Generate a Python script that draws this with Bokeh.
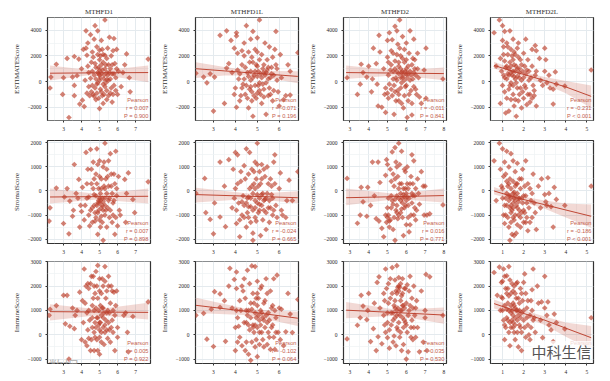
from math import pi
from bokeh.plotting import figure
from bokeh.layouts import column, row
from bokeh.models import Label, Range1d, FixedTicker
from bokeh.embed import file_html
from bokeh.resources import INLINE

genes = ["MTHFD1", "MTHFD1L", "MTHFD2", "MTHFD2L"]
scores = ["ESTIMATEScore", "StromalScore", "ImmuneScore"]
x_ranges = [(2.11, 7.83), (2.18, 6.88), (2.66, 8.14), (0.43, 5.31)]
y_ranges = [(-3030, 4985), (-2180, 2095), (-1180, 3010)]
x_ticks = [[3, 4, 5, 6, 7], [3, 4, 5, 6], [3, 4, 5, 6, 7, 8], [1, 2, 3, 4, 5]]
y_ticks = [[-2000, 0, 2000, 4000], [-2000, -1000, 0, 1000, 2000], [-1000, 0, 1000, 2000, 3000]]

stats = [
    [("r = 0.007", "P = 0.900"), ("r = -0.071", "P = 0.196"), ("r = -0.011", "P = 0.841"), ("r = -0.231", "P < 0.001")],
    [("r = 0.007", "P = 0.898"), ("r = -0.024", "P = 0.665"), ("r = 0.016", "P = 0.771"), ("r = -0.186", "P < 0.001")],
    [("r = 0.005", "P = 0.922"), ("r = -0.102", "P = 0.064"), ("r = -0.035", "P = 0.530"), None],
]

pts_11 = [(2.25,-500),(2.3,350),(2.6,1350),(2.95,-1000),(3.0,300),(3.2,1800),(3.3,-2800),(3.5,350),(3.6,-1100),(3.6,-300),(3.6,1950),(3.75,450),(3.85,1750),(3.9,-1750),(4.0,1000),(4.05,-1450),(4.1,2500),(4.15,-1950),(4.2,100),(4.25,3950),(4.3,-900),(4.3,2050),(4.35,3000),(4.4,700),(4.45,-1100),(4.5,3650),(4.55,1500),(4.6,-300),(4.6,2300),(4.65,-1000),(4.7,500),(4.7,3300),(4.75,4350),(4.8,-1400),(4.8,1100),(4.85,2700),(4.9,3950),(4.9,-100),(4.95,600),(5.0,-2100),(5.0,1700),(5.0,2450),(5.05,300),(5.1,-800),(5.1,3200),(5.15,900),(5.2,2100),(5.2,-1700),(5.25,500),(5.3,4800),(5.3,-400),(5.35,1300),(5.4,-1400),(5.4,700),(5.45,2600),(5.5,100),(5.55,3450),(5.6,-900),(5.6,1000),(5.65,2000),(5.7,600),(5.7,-1600),(5.8,3350),(5.8,-300),(5.85,1400),(5.9,300),(5.95,2500),(6.0,-1000),(6.05,800),(6.2,-400),(6.3,700),(6.4,1300),(6.5,2150),(6.65,300),(6.7,-800),(7.7,1750),(4.9,700),(5.0,500),(5.1,1300),(4.75,-500),(5.2,-200),(4.6,800),(5.4,150),(4.85,-900),
(4.25,2600),(4.35,1200),(4.4,-400),(4.5,250),(4.55,-800),(4.65,1900),(4.7,-1150),(4.75,1400),(4.8,200),(4.85,-200),(4.9,2100),(4.95,1100),(4.95,-1300),(5.0,100),(5.0,900),(5.05,-600),(5.05,2000),(5.1,650),(5.15,-1100),(5.15,2500),(5.2,1500),(5.25,-1000),(5.25,200),(5.3,1000),(5.3,2050),(5.35,-100),(5.4,-700),(5.4,1800),(5.45,500),(5.5,-1100),(5.5,1300),(5.55,700),(5.6,200),(5.65,-500),(5.7,1300),(5.75,2400),(5.75,-1000),(5.8,600),(5.9,-700),(5.95,1000)]
pts_12 = [(2.2,650),(2.55,350),(2.7,-100),(2.85,600),(3.0,-2300),(3.05,350),(3.3,3600),(3.5,-1700),(3.6,1050),(3.6,3950),(3.7,1400),(3.8,3200),(3.85,700),(3.95,-1000),(3.95,2600),(4.05,3550),(4.05,3800),(4.05,-2000),(4.1,2200),(4.15,200),(4.2,-1500),(4.3,-500),(4.3,1300),(4.4,2000),(4.4,3000),(4.45,-1000),(4.5,4350),(4.55,700),(4.6,-2050),(4.65,1500),(4.7,100),(4.7,3300),(4.75,-800),(4.8,3900),(4.8,-2700),(4.85,500),(4.9,2500),(4.95,-1300),(5.0,1200),(5.0,3400),(5.05,-300),(5.1,4800),(5.15,600),(5.2,2100),(5.2,-1700),(5.25,1000),(5.3,-600),(5.35,3000),(5.4,-2550),(5.4,700),(5.45,1700),(5.5,-1100),(5.55,2700),(5.6,300),(5.65,1100),(5.7,-1500),(5.75,500),(5.8,2500),(5.85,3900),(5.9,1000),(5.95,-800),(6.0,-1900),(6.05,2100),(6.1,300),(6.2,-1400),(6.3,-1100),(6.4,1300),(6.5,800),(6.5,-1050),(6.85,2250),(4.6,400),(4.9,800),(5.1,-100),(4.8,1500),(5.3,700),(4.4,200),(5.0,-900),(4.7,-400),
(4.0,-500),(4.1,900),(4.2,600),(4.25,-1100),(4.3,2400),(4.35,-200),(4.45,1100),(4.5,-300),(4.55,-1300),(4.6,2300),(4.65,-600),(4.7,800),(4.75,1900),(4.75,-1500),(4.8,300),(4.85,-1100),(4.9,-300),(4.95,1300),(5.0,400),(5.0,2300),(5.05,800),(5.1,-700),(5.1,1700),(5.15,-1000),(5.2,300),(5.25,-200),(5.3,1300),(5.3,-1200),(5.35,500),(5.4,-100),(5.45,900),(5.5,200),(5.5,1100),(5.55,-500),(5.6,-1000),(5.65,600),(5.7,1900),(5.75,-700),(5.85,1300),(5.9,100)]
pts_13 = [(2.85,300),(3.4,-1000),(3.55,-200),(3.6,1350),(3.7,700),(3.9,350),(4.0,1200),(4.15,-800),(4.2,200),(4.25,2600),(4.4,1400),(4.45,-200),(4.5,-1900),(4.55,3600),(4.6,2300),(4.7,-2000),(4.8,1000),(4.85,-1000),(4.9,-2400),(5.0,1900),(5.0,3200),(5.05,500),(5.05,-1300),(5.1,3800),(5.2,2400),(5.2,-600),(5.25,3250),(5.3,800),(5.35,-2550),(5.4,1600),(5.4,4300),(5.45,-1500),(5.5,3950),(5.5,100),(5.55,2900),(5.6,-1000),(5.6,1200),(5.65,4800),(5.7,2000),(5.7,300),(5.75,-1700),(5.8,3500),(5.8,800),(5.85,-2050),(5.9,1500),(5.9,2500),(5.95,-400),(6.0,3000),(6.0,600),(6.05,-2800),(6.1,1200),(6.15,-1000),(6.2,3950),(6.25,500),(6.3,-1700),(6.3,-2600),(6.35,1800),(6.4,3300),(6.45,1000),(6.5,-600),(6.6,2200),(6.65,300),(6.7,-1200),(6.8,-1700),(6.95,900),(7.05,2600),(7.05,-1300),(7.95,200),(5.6,600),(5.8,300),(5.5,800),(6.0,1000),(5.3,200),(5.7,-500),(6.2,100),(5.2,1300),
(4.9,-500),(5.0,-900),(5.05,1500),(5.1,-200),(5.15,900),(5.25,-1100),(5.3,2200),(5.35,-300),(5.4,1000),(5.45,300),(5.5,2100),(5.55,-700),(5.6,-1500),(5.65,2600),(5.7,1000),(5.75,-100),(5.8,1800),(5.85,500),(5.9,-1100),(5.95,800),(6.0,1700),(6.0,-300),(6.05,300),(6.1,-1500),(6.15,2200),(6.2,800),(6.25,-700),(6.3,1300),(6.35,200),(6.4,-400),(6.45,1700),(6.5,500),(6.55,-1000),(6.6,1000),(5.4,-800),(5.6,1500),(5.75,700),(5.9,100),(6.1,600),(6.4,700)]
pts_14 = [(0.6,3800),(0.7,1200),(0.85,4800),(0.9,-1700),(1.0,4350),(1.0,3200),(1.05,2700),(1.05,500),(1.1,3900),(1.1,1600),(1.1,-800),(1.15,-2450),(1.2,3000),(1.2,200),(1.25,2100),(1.3,-2300),(1.3,1000),(1.35,3950),(1.35,-300),(1.4,2500),(1.4,-1400),(1.45,500),(1.5,1700),(1.5,3300),(1.55,-1900),(1.55,2300),(1.6,800),(1.65,-2700),(1.65,1200),(1.7,-500),(1.7,2600),(1.75,3000),(1.8,300),(1.8,-1000),(1.85,1700),(1.9,-2050),(1.95,800),(2.0,2200),(2.0,-1300),(2.05,-300),(2.1,3300),(2.1,600),(2.15,-1800),(2.2,1700),(2.25,100),(2.3,-1000),(2.4,2500),(2.4,-1300),(2.5,-700),(2.55,500),(2.55,2800),(2.6,2400),(2.6,-1900),(2.75,1800),(2.8,100),(2.9,-300),(3.0,800),(3.0,2600),(3.05,1700),(3.1,-100),(3.2,500),(3.25,-500),(3.4,-600),(3.4,-1750),(3.5,750),(3.55,-200),(3.95,-350),(5.2,900),(1.4,700),(1.6,200),(1.5,-300),(1.3,500),(1.8,1000),(1.7,400),(1.2,1200),(1.9,100),
(0.9,1800),(0.95,800),(1.0,-300),(1.05,2100),(1.1,300),(1.15,1100),(1.2,-1300),(1.25,600),(1.25,2700),(1.3,-600),(1.35,1500),(1.4,-100),(1.4,1200),(1.45,2000),(1.5,800),(1.5,-1000),(1.55,400),(1.55,1300),(1.6,-1400),(1.6,2100),(1.65,-100),(1.7,1000),(1.75,-1500),(1.75,1900),(1.8,700),(1.85,-500),(1.9,1300),(1.95,-800),(2.0,300),(2.05,1200),(2.1,-500),(2.15,900),(2.2,-1000),(2.25,800),(2.3,-1600),(2.35,300),(2.4,1200),(2.45,-300),(2.5,-1100),(2.6,800)]

pts_21 = [(2.25,-700),(2.2,-1250),(2.6,120),(3.0,-1350),(3.05,-250),(3.2,100),(3.3,-1780),(3.35,-420),(3.5,-1050),(3.55,-800),(3.6,1100),(3.7,-100),(3.8,-300),(3.85,480),(3.9,-1500),(3.95,-600),(4.0,-850),(4.05,150),(4.15,-1200),(4.25,1600),(4.3,-300),(4.35,900),(4.4,-1000),(4.45,-1450),(4.5,1720),(4.55,300),(4.6,-700),(4.65,1200),(4.7,-150),(4.75,-1250),(4.8,700),(4.85,1750),(4.9,-900),(4.9,-1800),(4.95,100),(5.0,1250),(5.0,-500),(5.05,-1500),(5.1,500),(5.1,-1050),(5.15,-300),(5.2,1000),(5.2,-2050),(5.3,1980),(5.3,100),(5.35,-800),(5.4,-1500),(5.45,600),(5.5,1250),(5.5,-400),(5.55,-1100),(5.6,1550),(5.65,200),(5.7,-1300),(5.75,-500),(5.8,700),(5.85,-1800),(5.9,1650),(5.95,-200),(6.0,-1450),(6.05,600),(6.1,-800),(6.15,-1000),(6.4,480),(6.45,-1300),(6.5,-100),(6.6,750),(6.85,-350),(6.95,-900),(7.7,380),(4.9,-500),(5.0,-300),(5.1,-700),(4.8,-200),(5.2,-450),(5.3,-600),(4.7,-600),(5.4,-100),
(4.2,-600),(4.3,300),(4.4,-250),(4.5,-800),(4.55,900),(4.6,-1300),(4.65,100),(4.7,500),(4.75,-900),(4.8,-1100),(4.85,300),(4.9,1100),(4.95,-400),(5.0,600),(5.0,-1200),(5.05,-100),(5.1,100),(5.15,-1300),(5.2,-800),(5.25,200),(5.25,1200),(5.3,-1000),(5.35,500),(5.4,900),(5.45,-700),(5.5,200),(5.55,-300),(5.6,-800),(5.65,700),(5.7,-100),(5.75,-1000),(5.8,-400),(5.85,300),(5.9,-1100),(5.95,100),(4.85,-600),(4.95,-800),(5.05,-400),(5.15,-600),(5.3,-300)]
pts_22 = [(2.2,-90),(2.6,520),(2.65,-900),(2.85,-1180),(3.0,-1780),(3.05,-500),(3.3,-1080),(3.3,1200),(3.5,200),(3.55,-1480),(3.7,1300),(3.85,-700),(3.9,900),(4.0,1600),(4.0,100),(4.05,-1350),(4.1,1500),(4.15,-500),(4.2,-1900),(4.25,400),(4.3,-1000),(4.4,1050),(4.5,-1500),(4.5,1750),(4.55,-300),(4.6,700),(4.6,-1100),(4.65,1600),(4.7,-650),(4.75,200),(4.8,-1750),(4.8,-2050),(4.85,800),(4.9,1200),(4.9,-400),(4.95,-1250),(5.0,1980),(5.0,1100),(5.05,200),(5.1,-800),(5.15,-1850),(5.2,500),(5.25,-1200),(5.3,900),(5.35,-350),(5.4,-1600),(5.45,-100),(5.5,-700),(5.55,-1300),(5.6,500),(5.65,-150),(5.7,-1000),(5.75,1200),(5.8,1500),(5.85,-600),(5.9,-1100),(6.0,100),(6.05,750),(6.1,-800),(6.15,-1000),(6.3,-1100),(6.35,-400),(6.45,450),(6.6,-400),(6.85,800),(4.7,-300),(4.8,-100),(4.9,-700),(5.1,-300),(5.2,-150),(4.6,-250),(5.0,-500),(4.4,-600),(5.3,-400),
(3.95,-300),(4.05,-800),(4.1,300),(4.2,-1200),(4.25,800),(4.35,-200),(4.4,-1100),(4.45,500),(4.5,-500),(4.55,-900),(4.65,100),(4.7,-1300),(4.75,900),(4.8,-800),(4.85,300),(4.9,-1100),(4.95,500),(5.0,-150),(5.05,-900),(5.1,800),(5.15,300),(5.2,-600),(5.2,1100),(5.25,-100),(5.3,-800),(5.35,600),(5.4,-300),(5.45,1000),(5.5,300),(5.55,-400),(5.6,-700),(5.65,200),(5.7,-300),(5.75,-800),(5.8,300),(4.3,-450),(4.6,-650),(4.9,100),(5.1,-550),(5.4,-900)]
pts_23 = [(2.85,520),(3.4,-1340),(3.55,-1000),(3.6,150),(3.7,-450),(3.9,-1050),(3.95,150),(4.1,-600),(4.2,1200),(4.3,-200),(4.4,-1150),(4.5,1200),(4.55,-1250),(4.6,350),(4.7,-1550),(4.8,-1900),(4.9,650),(4.95,1300),(5.0,-1100),(5.0,1100),(5.05,-300),(5.1,-1250),(5.15,900),(5.2,-700),(5.25,1620),(5.3,-1600),(5.35,200),(5.4,1800),(5.4,-2050),(5.45,-800),(5.5,1000),(5.5,-200),(5.55,-1150),(5.6,1980),(5.65,300),(5.7,-900),(5.75,1650),(5.8,-300),(5.85,-1850),(5.9,900),(5.95,100),(6.0,-1400),(6.05,1000),(6.1,-600),(6.15,-1700),(6.2,300),(6.25,-1000),(6.3,1500),(6.35,-200),(6.4,1250),(6.45,-700),(6.5,-1200),(6.6,500),(6.65,-100),(6.7,-550),(6.8,800),(6.9,200),(6.95,-1000),(7.0,200),(7.1,-1000),(7.25,-950),(7.95,-580),(5.6,-300),(5.7,-100),(5.8,-500),(5.5,-600),(5.9,-250),(6.0,-400),(5.4,-350),(6.1,100),(5.3,-550),(5.2,-200),
(4.9,-1000),(4.95,-1300),(5.0,-700),(5.05,-1000),(5.1,-1500),(5.15,-1200),(5.2,400),(5.25,-400),(5.3,700),(5.35,-1100),(5.4,500),(5.45,1200),(5.5,-900),(5.55,600),(5.6,-1000),(5.65,1100),(5.7,-400),(5.75,300),(5.8,-1100),(5.85,100),(5.9,-700),(5.95,800),(6.0,-100),(6.05,300),(6.1,-1100),(6.15,-300),(6.2,-1400),(6.25,600),(6.3,-500),(6.35,300),(6.4,-1000),(6.45,-200),(6.5,100),(6.55,-800),(5.6,100),(5.75,-750),(5.85,-150),(5.95,-600),(6.05,-250),(6.3,-100)]
pts_24 = [(0.6,1250),(0.7,-400),(0.85,1980),(0.95,200),(1.0,1750),(1.05,-1000),(1.1,1200),(1.1,-1350),(1.15,700),(1.2,1650),(1.2,-600),(1.25,200),(1.3,-1500),(1.3,1000),(1.35,-200),(1.35,-2050),(1.4,1550),(1.4,-900),(1.45,-1800),(1.5,400),(1.5,1250),(1.55,-1200),(1.55,-1850),(1.6,800),(1.6,-400),(1.65,-1750),(1.7,1150),(1.7,-100),(1.75,-1000),(1.8,500),(1.85,-1500),(1.9,-300),(1.95,900),(2.0,-800),(2.05,200),(2.1,1250),(2.1,-1300),(2.15,-500),(2.2,-1650),(2.3,100),(2.4,-1100),(2.45,700),(2.5,-500),(2.55,-900),(2.6,-1600),(2.7,200),(2.8,-700),(2.85,500),(3.0,-150),(3.05,-450),(3.1,-600),(3.15,550),(3.2,-100),(3.3,-650),(3.4,-1500),(3.45,150),(3.55,-350),(3.95,-600),(5.2,200),(1.2,-100),(1.3,-400),(1.4,100),(1.5,-500),(1.6,-200),(1.7,-700),(1.4,-600),(1.5,-100),(1.8,-300),(1.9,-900),(1.3,300),(1.6,200),(2.0,-200),
(0.9,900),(1.0,100),(1.0,-300),(1.05,600),(1.1,-600),(1.15,-1000),(1.2,400),(1.25,-1100),(1.3,-200),(1.35,500),(1.4,-300),(1.4,-1300),(1.45,-800),(1.5,-1100),(1.5,-700),(1.55,-300),(1.6,-1000),(1.65,300),(1.65,-600),(1.7,-1400),(1.7,300),(1.75,-300),(1.8,-800),(1.85,100),(1.85,-1100),(1.9,500),(1.95,-500),(2.0,-1300),(2.05,-900),(2.1,-200),(2.15,-1100),(2.2,300),(2.25,-700),(2.3,-1300),(2.35,-400),(2.4,-100),(1.15,-300),(1.35,-700),(1.55,-50),(1.75,-450)]

pts_31 = [(2.25,1050),(2.2,800),(2.6,1200),(3.0,1620),(3.1,450),(3.2,1620),(3.3,-1000),(3.35,350),(3.5,1100),(3.6,250),(3.65,800),(3.75,1000),(3.9,1750),(4.0,-200),(4.05,1400),(4.1,500),(4.15,2700),(4.2,-300),(4.3,-450),(4.35,2100),(4.4,1000),(4.4,-150),(4.5,-650),(4.55,2400),(4.6,300),(4.65,1500),(4.7,-650),(4.7,2000),(4.75,-100),(4.8,2600),(4.85,700),(4.9,-650),(4.9,2850),(4.95,400),(5.0,1800),(5.0,-800),(5.05,1200),(5.1,100),(5.15,2300),(5.2,700),(5.25,-400),(5.3,2800),(5.35,1500),(5.4,200),(5.45,-150),(5.5,2400),(5.55,900),(5.6,-300),(5.65,2000),(5.7,600),(5.75,100),(5.8,1750),(5.85,-650),(5.9,1200),(5.95,1800),(6.0,300),(6.0,-100),(6.35,800),(6.45,900),(6.55,100),(6.6,-700),(6.85,750),(7.7,1350),(4.8,300),(4.9,700),(5.0,200),(5.1,800),(5.2,1100),(4.7,1000),(5.3,400),(4.6,700),(5.4,900),(5.0,500),
(4.2,1300),(4.25,2000),(4.3,900),(4.35,200),(4.4,1900),(4.45,600),(4.5,2100),(4.55,-200),(4.6,1200),(4.65,2400),(4.7,100),(4.75,1700),(4.75,500),(4.8,1100),(4.85,2000),(4.85,-200),(4.9,1500),(4.95,1000),(5.0,2300),(5.0,-100),(5.05,500),(5.1,1700),(5.1,-300),(5.15,1100),(5.2,300),(5.2,2000),(5.25,900),(5.3,100),(5.3,2200),(5.35,600),(5.4,1800),(5.45,1000),(5.5,500),(5.5,2000),(5.55,200),(5.6,1300),(5.65,300),(5.7,1800),(5.75,1000),(5.85,800)]
pts_32 = [(2.2,800),(2.55,880),(2.7,-180),(2.9,1050),(3.0,-480),(3.05,1770),(3.3,1130),(3.3,1680),(3.5,1400),(3.55,-270),(3.7,2000),(3.75,2730),(3.85,1100),(3.95,2270),(4.0,-650),(4.05,1000),(4.05,2580),(4.1,-300),(4.15,350),(4.2,1400),(4.3,-450),(4.35,1800),(4.4,2300),(4.45,-650),(4.5,500),(4.55,2650),(4.6,1000),(4.6,-800),(4.65,2100),(4.7,-1050),(4.75,2830),(4.8,300),(4.85,1300),(4.9,-500),(4.9,2800),(4.95,700),(5.0,2200),(5.0,-900),(5.05,1500),(5.1,100),(5.15,1000),(5.2,2000),(5.25,-200),(5.3,600),(5.35,1400),(5.4,2300),(5.45,-400),(5.5,900),(5.55,-100),(5.6,1800),(5.65,300),(5.7,1200),(5.75,2300),(5.8,-600),(5.85,700),(5.9,2450),(5.95,100),(6.0,1100),(6.05,-200),(6.1,1050),(6.2,-450),(6.3,120),(6.4,1700),(6.5,850),(6.6,90),(6.85,1450),(4.8,400),(4.9,900),(5.0,300),(5.1,600),(4.7,700),(5.2,900),(4.6,400),(5.0,1200),(4.5,1000),
(4.0,300),(4.05,1900),(4.1,700),(4.2,-100),(4.25,1000),(4.3,2000),(4.4,500),(4.45,1500),(4.5,-300),(4.55,800),(4.65,200),(4.7,1300),(4.75,-300),(4.8,1700),(4.85,100),(4.9,400),(4.95,-200),(5.0,1700),(5.05,800),(5.1,-400),(5.15,1900),(5.2,100),(5.25,700),(5.3,-500),(5.3,1300),(5.35,300),(5.4,800),(5.45,1700),(5.5,100),(5.55,600),(5.6,-600),(5.65,1100),(5.7,400),(5.75,-100),(5.8,1000),(5.85,100),(4.75,1050),(4.95,1500),(5.15,400),(5.45,500)]
pts_33 = [(2.85,-170),(3.4,390),(3.55,700),(3.6,1620),(3.7,1180),(3.9,620),(3.95,1000),(4.0,1700),(4.1,-280),(4.25,250),(4.3,1300),(4.4,-650),(4.45,2150),(4.5,-80),(4.55,2380),(4.6,1100),(4.7,-370),(4.8,1700),(4.85,400),(4.9,2700),(5.0,-120),(5.0,900),(5.05,2100),(5.1,-550),(5.15,1500),(5.2,400),(5.25,2760),(5.3,-300),(5.35,1200),(5.4,2250),(5.4,700),(5.45,-450),(5.5,2840),(5.5,1000),(5.55,200),(5.6,2000),(5.65,-100),(5.7,1400),(5.75,-650),(5.8,2300),(5.8,700),(5.85,-400),(5.9,1100),(5.95,1900),(6.0,-1000),(6.0,400),(6.05,2050),(6.1,-700),(6.15,1000),(6.2,2400),(6.25,300),(6.3,1500),(6.35,-200),(6.4,2000),(6.45,800),(6.5,-100),(6.55,1400),(6.6,300),(6.7,-700),(6.8,1800),(6.9,-300),(7.0,1000),(7.05,2480),(7.0,700),(7.1,-650),(7.25,2380),(7.95,800),(5.5,800),(5.6,500),(5.7,1000),(5.6,1800),(5.3,900),(5.8,1200),(5.4,1400),(5.9,600),
(4.8,800),(4.85,1400),(4.9,100),(4.95,1900),(5.0,500),(5.05,1300),(5.1,200),(5.15,2300),(5.2,900),(5.25,1700),(5.3,600),(5.35,-50),(5.4,1100),(5.45,1800),(5.5,300),(5.5,1700),(5.55,1100),(5.6,2350),(5.65,800),(5.7,100),(5.7,2100),(5.75,1000),(5.8,1700),(5.85,300),(5.9,1900),(5.95,500),(6.0,1300),(6.05,100),(6.1,800),(6.15,1800),(6.2,1200),(6.25,-100),(6.3,600),(6.35,1100),(6.4,300),(6.5,1100),(5.55,1950),(5.65,1950),(5.75,1600),(5.85,1200)]
pts_34 = [(0.6,2560),(0.75,1620),(0.85,2780),(0.95,1550),(1.0,2200),(1.0,1000),(1.05,2700),(1.1,400),(1.1,-200),(1.15,1900),(1.2,2420),(1.2,700),(1.25,1300),(1.3,2800),(1.3,100),(1.35,-450),(1.4,1700),(1.4,900),(1.45,2100),(1.5,300),(1.5,1300),(1.55,2000),(1.6,-200),(1.6,700),(1.65,1500),(1.7,2150),(1.75,-500),(1.8,1000),(1.85,300),(1.9,1700),(1.9,-650),(2.0,2150),(2.0,600),(2.05,2500),(2.1,-100),(2.15,1100),(2.2,400),(2.3,-200),(2.35,1400),(2.4,1850),(2.45,2700),(2.5,700),(2.55,100),(2.65,2000),(2.7,1300),(2.8,600),(2.85,1350),(2.9,-120),(3.0,1100),(3.0,2400),(3.1,800),(3.15,1350),(3.2,400),(3.3,200),(3.4,-280),(3.45,850),(3.55,500),(3.95,240),(5.2,700),(1.3,1000),(1.4,1200),(1.5,800),(1.6,1100),(1.7,600),(1.2,1700),(1.5,500),(1.8,1300),(1.35,500),(1.65,1000),(1.9,900),
(0.9,1000),(0.95,2150),(1.0,1500),(1.05,600),(1.1,1200),(1.1,2400),(1.15,300),(1.2,1050),(1.25,1900),(1.25,600),(1.3,1600),(1.35,2250),(1.4,300),(1.45,1000),(1.5,1800),(1.55,100),(1.55,1200),(1.6,1700),(1.6,400),(1.65,2100),(1.7,1000),(1.7,100),(1.75,1500),(1.8,400),(1.85,1900),(1.85,700),(1.9,100),(1.95,1400),(2.0,1000),(2.05,300),(2.1,1700),(2.15,700),(2.2,1400),(2.25,0),(2.3,800),(2.35,300),(2.4,1000),(2.45,600),(1.45,600),(1.75,800)]

fits = [
    [((2.25, 4.9, 7.7), (650, 680, 700), (80, 580, -50), (1250, 820, 1250)),
     ((2.2, 3.5, 4.8, 6.85), (1000, 830, 660, 400), (280, 480, 480, -130), (1500, 1130, 850, 800)),
     ((2.8, 5.5, 8.0), (700, 660, 620), (200, 500, 100), (1250, 850, 1100)),
     ((0.6, 1.7, 3.0, 4.0, 5.2), (1250, 700, 80, -420, -1150), (1000, 550, -200, -900, -2050), (1550, 850, 350, 50, -300))],
    [((2.25, 4.9, 7.7), (-250, -235, -220), (-520, -350, -520), (100, -130, 100)),
     ((2.2, 4.7, 6.85), (-150, -220, -280), (-480, -320, -510), (130, -120, -10)),
     ((2.8, 5.5, 8.0), (-280, -235, -190), (-590, -330, -480), (100, -130, 100)),
     ((0.6, 1.7, 3.0, 4.0, 5.2), (0, -290, -570, -790, -1050), (-150, -400, -740, -1100, -1530), (170, -190, -400, -520, -560))],
    [((2.25, 4.9, 7.7), (950, 935, 920), (590, 800, 630), (1250, 1050, 1320)),
     ((2.2, 4.6, 6.85), (1210, 950, 680), (890, 800, 360), (1520, 1050, 950)),
     ((2.8, 5.5, 8.0), (1010, 910, 810), (680, 780, 450), (1350, 1030, 1120)),
     ((0.6, 1.7, 3.0, 4.0, 5.2), (1280, 960, 600, 270, -120), (1080, 830, 400, -80, -610), (1450, 1090, 750, 500, 360))],
]

points = [[pts_11, pts_12, pts_13, pts_14], [pts_21, pts_22, pts_23, pts_24], [pts_31, pts_32, pts_33, pts_34]]

RED = "#BC3F2C"
SERIF = "Liberation Serif"
SANS = "Liberation Sans"
col_lefts = [47, 39, 39, 39]
col_widths = [156, 148, 147, 157]
frame_w = 103
row_tops = [17, 5, 5]
row_bottoms = [15, 13, 11]
frame_h = [103, 103, 104]

rows = []
for r in range(3):
    figs = []
    for c in range(4):
        p = figure(width=col_widths[c], height=row_tops[r] + frame_h[r] + row_bottoms[r],
                   output_backend="svg", toolbar_location=None,
                   x_range=Range1d(*x_ranges[c]), y_range=Range1d(*y_ranges[r]),
                   min_border_left=col_lefts[c], min_border_right=col_widths[c] - col_lefts[c] - frame_w,
                   min_border_top=row_tops[r], min_border_bottom=row_bottoms[r])
        if r == 0:
            p.title.text = genes[c]
            p.title.align = "center"
            p.title.text_font = SERIF
            p.title.text_font_size = "7px"
            p.title.text_font_style = "normal"
            p.title.text_color = "#333333"
            p.title.standoff = 3
            p.title.offset = 0

        xminor = [t + 0.5 for t in [x_ticks[c][0] - 1] + x_ticks[c]]
        ystep = y_ticks[r][1] - y_ticks[r][0]
        yminor = [t + ystep / 2 for t in [y_ticks[r][0] - ystep] + y_ticks[r]]
        xt = FixedTicker(ticks=x_ticks[c], minor_ticks=xminor)
        yt = FixedTicker(ticks=y_ticks[r], minor_ticks=yminor)
        p.xaxis.ticker = xt
        p.yaxis.ticker = yt
        p.xgrid.ticker = xt
        p.ygrid.ticker = yt
        for g in (p.xgrid, p.ygrid):
            g.grid_line_color = "#E4EAEE"
            g.grid_line_width = 1
            g.minor_grid_line_color = "#EEF2F4"
            g.minor_grid_line_width = 0.7
        for ax in (p.xaxis, p.yaxis):
            ax.axis_line_color = None
            ax.major_tick_line_color = "#333333"
            ax.major_tick_in = 0
            ax.major_tick_out = 2
            ax.minor_tick_line_color = None
            ax.major_label_text_font = SERIF
            ax.major_label_text_font_size = "5.5px"
            ax.major_label_text_color = "#2A2A2A"
            ax.major_label_standoff = 2
        p.yaxis.axis_label = scores[r]
        p.yaxis.axis_label_text_font = SERIF
        p.yaxis.axis_label_text_font_size = "7px"
        p.yaxis.axis_label_text_font_style = "normal"
        p.yaxis.axis_label_text_color = "#333333"
        p.yaxis.axis_label_standoff = 3
        p.outline_line_color = "#333333"
        p.outline_line_width = 1.2
        p.outline_line_alpha = 1

        fx, fy, lo, hi = fits[r][c]
        p.varea(x=list(fx), y1=list(lo), y2=list(hi), fill_color=RED, fill_alpha=0.2)
        xs = [a for a, b in points[r][c]]
        ys = [b for a, b in points[r][c]]
        p.scatter(xs, ys, marker="square", angle=pi / 4, size=4.0, fill_color=RED, fill_alpha=0.66, line_color=None)
        p.line(list(fx), list(fy), line_color=RED, line_width=1, line_alpha=0.95)

        lines = ["Pearson"] + (list(stats[r][c]) if stats[r][c] else [])
        for txt, off in zip(lines, (21, 13, 5)):
            p.add_layout(Label(x=x_ranges[c][1], y=y_ranges[r][0], x_units="data", y_units="data",
                               x_offset=-2, y_offset=off, text=txt, text_align="right", text_baseline="middle",
                               text_font=SANS, text_font_size="5.7px", text_color="#C4604E"))
        if r == 2 and c == 3:
            p.add_layout(Label(x=x_ranges[c][0], y=y_ranges[r][0], x_units="data", y_units="data",
                               x_offset=41, y_offset=12, text="中科生信", text_baseline="middle",
                               text_font="Noto Sans CJK SC", text_font_size="15px", text_color="#555555",
                               background_fill_color="white", background_fill_alpha=0.75))
        if r == 2 and c == 0:
            p.add_layout(Label(x=-14, y=-2, x_units="screen", y_units="screen", text="大数据", text_baseline="middle",
                               text_font="Noto Sans CJK SC", text_font_size="15px", text_color="#B8B8B8"))
        figs.append(p)
    rows.append(row(*figs, spacing=0))

page = column(*rows, spacing=0)
open("out.html", "w").write(file_html(page, INLINE))
